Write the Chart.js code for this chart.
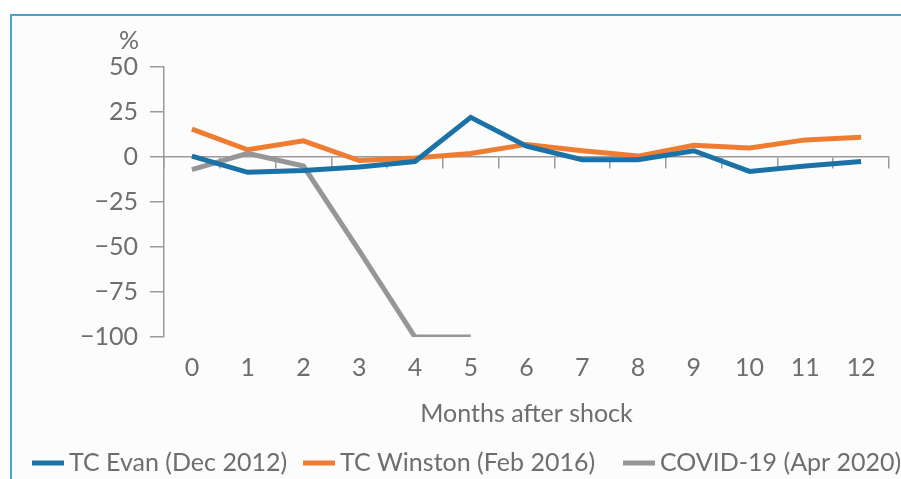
<!DOCTYPE html>
<html>
<head>
<meta charset="utf-8">
<script src="https://cdn.jsdelivr.net/npm/chart.js@4.4.1/dist/chart.umd.min.js"></script>
<style>
  html, body { margin: 0; padding: 0; background: #fff; }
  #frame { position: absolute; left: 10px; top: 14px; width: 900px; height: 470px; border-left: 2px solid #4aa3c7; border-top: 2px solid #4aa3c7; background: #fcfcfc; }
  #wrap { position: absolute; left: 0; top: 0; width: 901px; height: 479px; }
</style>
</head>
<body>
<div id="frame"></div>
<div id="wrap"><canvas id="chartCanvas" width="901" height="479"></canvas></div>
<script>
const months = ['0', '1', '2', '3', '4', '5', '6', '7', '8', '9', '10', '11', '12'];
const evanValues = [0.5, -8.5, -7.5, -5.5, -2.5, 22, 6, -1.5, -1.5, 3.5, -8, -5, -2.5];
const winstonValues = [15.5, 4, 9, -2, -0.5, 2, 7, 3.5, 0.5, 6.5, 5, 9.5, 11];
const covidValues = [-7, 2, -5, -52, -100, -100, null, null, null, null, null, null, null];
const yTicks = [50, 25, 0, -25, -50, -75, -100];
const seriesNames = ['TC Evan (Dec 2012)', 'TC Winston (Feb 2016)', 'COVID-19 (Apr 2020)'];
const seriesColors = ['#1a72a6', '#ee7d31', '#969696'];

const FONT = 'Lato, "Open Sans", sans-serif', TEXT = '#6d6e71', AXIS = '#9a9a9a', SIZE = 25;
const legendStarts = [32, 303, 623];

const overlay = {
  id: 'overlay',
  afterDraw(chart) {
    const ctx = chart.ctx;
    ctx.save();
    ctx.fillStyle = TEXT;
    ctx.font = SIZE + 'px ' + FONT;
    ctx.textAlign = 'center'; ctx.textBaseline = 'middle';
    ctx.fillText('%', 129, 41);
    // legend along the bottom
    ctx.textAlign = 'left';
    const y = 463;
    chart.data.datasets.forEach((ds, i) => {
      const x = legendStarts[i];
      ctx.strokeStyle = ds.borderColor; ctx.lineWidth = 5; ctx.lineCap = 'butt';
      ctx.beginPath(); ctx.moveTo(x, y); ctx.lineTo(x + 32, y); ctx.stroke();
      ctx.fillText(ds.label, x + 37, y);
    });
    ctx.restore();
  }
};

const ctx = document.getElementById('chartCanvas').getContext('2d');
new Chart(ctx, {
  type: 'line',
  data: {
    labels: months,
    datasets: [
      { label: seriesNames[0], data: evanValues, borderColor: seriesColors[0], borderWidth: 5, pointRadius: 0, tension: 0 },
      { label: seriesNames[1], data: winstonValues, borderColor: seriesColors[1], borderWidth: 5, pointRadius: 0, tension: 0 },
      { label: seriesNames[2], data: covidValues, borderColor: seriesColors[2], borderWidth: 5, pointRadius: 0, tension: 0, spanGaps: false }
    ]
  },
  options: {
    responsive: false, animation: false,
    layout: { padding: { top: 67, right: 12, left: 0, bottom: 0 } },
    plugins: { legend: { display: false }, tooltip: { enabled: false } },
    scales: {
      x: {
        type: 'category', position: 'bottom', offset: true,
        grid: { display: false, drawTicks: false },
        border: { display: false },
        ticks: { color: TEXT, font: { family: FONT, size: SIZE }, padding: 16, maxRotation: 0 },
        title: { display: true, text: 'Months after shock', color: TEXT, font: { family: FONT, size: SIZE }, padding: { top: 0, bottom: 50 } },
        afterFit(scale) { scale.height = 142; }
      },
      x0: {
        type: 'category', position: { y: 0 }, offset: true,
        grid: { offset: true, drawOnChartArea: false, drawTicks: true, tickLength: 11, color: AXIS, lineWidth: 1.5 },
        border: { display: true, color: AXIS, width: 1.5 },
        ticks: { display: false }
      },
      y: {
        min: -100, max: 50,
        afterBuildTicks(scale) { scale.ticks = yTicks.map(v => ({ value: v })); },
        grid: { drawOnChartArea: false, drawTicks: true, tickLength: 14, color: AXIS, lineWidth: 1.5 },
        border: { display: true, color: AXIS, width: 1.5 },
        ticks: { color: TEXT, font: { family: FONT, size: SIZE }, padding: 12, callback: v => String(v).replace('-', '\u2212') },
        afterFit(scale) { scale.width = 164; }
      }
    }
  },
  plugins: [overlay]
});
</script>
</body>
</html>
